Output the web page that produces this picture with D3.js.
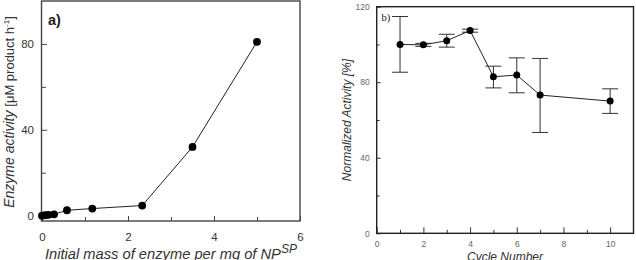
<!DOCTYPE html>
<html>
<head>
<meta charset="utf-8">
<script src="https://cdn.jsdelivr.net/npm/d3@7"></script>
<style>
  body { margin: 0; background: #fff; }
  svg { display: block; font-family: "Liberation Sans", Arial, sans-serif; }
</style>
</head>
<body>
<svg id="chart" width="636" height="260"></svg>
<script>
// panel a) enzyme loading
const massA = [0, 0.07, 0.15, 0.28, 0.58, 1.17, 2.33, 3.5, 5.0];
const activityA = [0, 0.2, 0.4, 0.6, 2.5, 3.3, 4.7, 32, 81];
const xTicksA = [0, 2, 4, 6];
const yTicksA = [0, 40, 80];

// panel b) recycling
const cycles = [1, 2, 3, 4, 5, 6, 7, 10];
const normAct = [100, 99.8, 102, 107.4, 82.9, 83.8, 73.2, 70];
const errLow = [85.3, 99, 98.6, 106.5, 77, 74.4, 53.4, 63.5];
const errHigh = [114.8, 100.6, 105.4, 108.1, 88.5, 92.9, 92.6, 76.5];
const xTicksB = [0, 2, 4, 6, 8, 10];
const yTicksB = [0, 40, 80, 120];

const svg = d3.select("#chart");

// ---------- panel a ----------
const xA = d3.scaleLinear().domain([0, 6]).range([42, 300]);
const yA = d3.scaleLinear().domain([-2.5, 100]).range([221, 1]);

const gA = svg.append("g");

// minor ticks first
gA.append("g")
    .attr("transform", `translate(0,${yA.range()[0]})`)
    .call(d3.axisBottom(xA).tickValues([1, 3, 5]).tickSize(-4).tickFormat(""))
    .call(g => g.select(".domain").remove())
    .selectAll("line").attr("stroke", "#444");
gA.append("g")
    .attr("transform", `translate(${xA.range()[0]},0)`)
    .call(d3.axisLeft(yA).tickValues([20, 60]).tickSize(-4).tickFormat(""))
    .call(g => g.select(".domain").remove())
    .selectAll("line").attr("stroke", "#444");

const xAxisA = gA.append("g")
    .attr("transform", `translate(0,${yA.range()[0]})`)
    .call(d3.axisBottom(xA).tickValues(xTicksA).tickSize(-5).tickPadding(12).tickFormat(d3.format("d")));
xAxisA.select(".domain").remove();
xAxisA.selectAll("line").attr("stroke", "#444");
xAxisA.selectAll("text").attr("font-size", 11.5).attr("fill", "#333")
    .attr("font-family", "Liberation Sans, Arial, sans-serif");

const yAxisA = gA.append("g")
    .attr("transform", `translate(${xA.range()[0]},0)`)
    .call(d3.axisLeft(yA).tickValues(yTicksA).tickSize(-5).tickPadding(8).tickFormat(d3.format("d")));
yAxisA.select(".domain").remove();
yAxisA.selectAll("line").attr("stroke", "#444");
yAxisA.selectAll("text").attr("font-size", 11.5).attr("fill", "#333")
    .attr("font-family", "Liberation Sans, Arial, sans-serif");

gA.append("rect")
    .attr("x", xA.range()[0] - 0.5).attr("y", yA.range()[1])
    .attr("width", xA.range()[1] - xA.range()[0] + 0.5)
    .attr("height", yA.range()[0] - yA.range()[1])
    .attr("fill", "none").attr("stroke", "#444").attr("stroke-width", 1.4);

const ptsA = massA.map((m, i) => [m, activityA[i]]);
gA.append("path")
    .datum(ptsA)
    .attr("d", d3.line().x(d => xA(d[0])).y(d => yA(d[1])))
    .attr("fill", "none").attr("stroke", "#222").attr("stroke-width", 1);
gA.selectAll(".dotA")
    .data(ptsA)
    .enter().append("circle")
    .attr("class", "dotA")
    .attr("cx", d => xA(d[0])).attr("cy", d => yA(d[1]))
    .attr("r", 3.9).attr("fill", "#000");

gA.append("text")
    .attr("x", 48).attr("y", 25)
    .attr("font-size", 14.5).attr("font-weight", "bold").attr("fill", "#222")
    .text("a)");

const yTitleA = gA.append("text")
    .attr("transform", "translate(14,112) rotate(-90)")
    .attr("text-anchor", "middle").attr("fill", "#333");
yTitleA.append("tspan").attr("font-style", "italic").attr("font-size", 14).text("Enzyme activity ");
yTitleA.append("tspan").attr("font-size", 13).text("[μM product h");
yTitleA.append("tspan").attr("font-size", 8).attr("dy", -5).text("-1");
yTitleA.append("tspan").attr("font-size", 13).attr("dy", 5).text("]");

const xTitleA = gA.append("text")
    .attr("x", 45).attr("y", 259)
    .attr("fill", "#333").attr("font-style", "italic");
xTitleA.append("tspan").attr("font-size", 14.7).text("Initial mass of enzyme per mg of NP");
xTitleA.append("tspan").attr("font-size", 12).attr("dy", -6).text("SP");

// ---------- panel b ----------
const xB = d3.scaleLinear().domain([0, 11]).range([376.7, 633.5]);
const yB = d3.scaleLinear().domain([0, 120]).range([233.3, 6.7]);

const gB = svg.append("g");

gB.append("g")
    .attr("transform", `translate(0,${yB.range()[0]})`)
    .call(d3.axisBottom(xB).tickValues([1, 3, 5, 7, 9]).tickSize(-3.5).tickFormat(""))
    .call(g => g.select(".domain").remove())
    .selectAll("line").attr("stroke", "#333");
gB.append("g")
    .attr("transform", `translate(${xB.range()[0]},0)`)
    .call(d3.axisLeft(yB).tickValues([20, 60, 100]).tickSize(-3).tickFormat(""))
    .call(g => g.select(".domain").remove())
    .selectAll("line").attr("stroke", "#333");

const xAxisB = gB.append("g")
    .attr("transform", `translate(0,${yB.range()[0]})`)
    .call(d3.axisBottom(xB).tickValues(xTicksB).tickSize(-6).tickPadding(8).tickFormat(d3.format("d")));
xAxisB.select(".domain").remove();
xAxisB.selectAll("line").attr("stroke", "#333");
xAxisB.selectAll("text").attr("font-size", 8.5).attr("fill", "#666")
    .attr("font-family", "Liberation Sans, Arial, sans-serif");

const yAxisB = gB.append("g")
    .attr("transform", `translate(${xB.range()[0]},0)`)
    .call(d3.axisLeft(yB).tickValues(yTicksB).tickSize(-4).tickPadding(7).tickFormat(d3.format("d")));
yAxisB.select(".domain").remove();
yAxisB.selectAll("line").attr("stroke", "#333");
yAxisB.selectAll("text").attr("font-size", 8.5).attr("fill", "#666")
    .attr("font-family", "Liberation Sans, Arial, sans-serif");

gB.append("rect")
    .attr("x", xB.range()[0]).attr("y", yB.range()[1])
    .attr("width", xB.range()[1] - xB.range()[0])
    .attr("height", yB.range()[0] - yB.range()[1])
    .attr("fill", "none").attr("stroke", "#222").attr("stroke-width", 1.4);

const ptsB = cycles.map((c, i) => ({ c: c, v: normAct[i], lo: errLow[i], hi: errHigh[i] }));

const err = gB.selectAll(".err")
    .data(ptsB)
    .enter().append("g")
    .attr("class", "err")
    .attr("stroke", "#333").attr("stroke-width", 1);
err.append("line")
    .attr("x1", d => xB(d.c)).attr("x2", d => xB(d.c))
    .attr("y1", d => yB(d.lo)).attr("y2", d => yB(d.hi));
err.append("line")
    .attr("x1", d => xB(d.c) - 8).attr("x2", d => xB(d.c) + 8)
    .attr("y1", d => yB(d.lo)).attr("y2", d => yB(d.lo));
err.append("line")
    .attr("x1", d => xB(d.c) - 8).attr("x2", d => xB(d.c) + 8)
    .attr("y1", d => yB(d.hi)).attr("y2", d => yB(d.hi));

gB.append("path")
    .datum(ptsB)
    .attr("d", d3.line().x(d => xB(d.c)).y(d => yB(d.v)))
    .attr("fill", "none").attr("stroke", "#222").attr("stroke-width", 1);
gB.selectAll(".dotB")
    .data(ptsB)
    .enter().append("circle")
    .attr("class", "dotB")
    .attr("cx", d => xB(d.c)).attr("cy", d => yB(d.v))
    .attr("r", 3.5).attr("fill", "#000");

gB.append("text")
    .attr("x", 381.5).attr("y", 21)
    .attr("font-family", "Liberation Serif, Times New Roman, serif")
    .attr("font-size", 10.5).attr("fill", "#111")
    .text("b)");

gB.append("text")
    .attr("transform", "translate(351,120) rotate(-90)")
    .attr("text-anchor", "middle").attr("font-style", "italic")
    .attr("font-size", 12).attr("fill", "#333")
    .text("Normalized Activity [%]");

gB.append("text")
    .attr("x", 505).attr("y", 261.3)
    .attr("text-anchor", "middle").attr("font-style", "italic")
    .attr("font-size", 12).attr("fill", "#333")
    .text("Cycle Number");
</script>
</body>
</html>
